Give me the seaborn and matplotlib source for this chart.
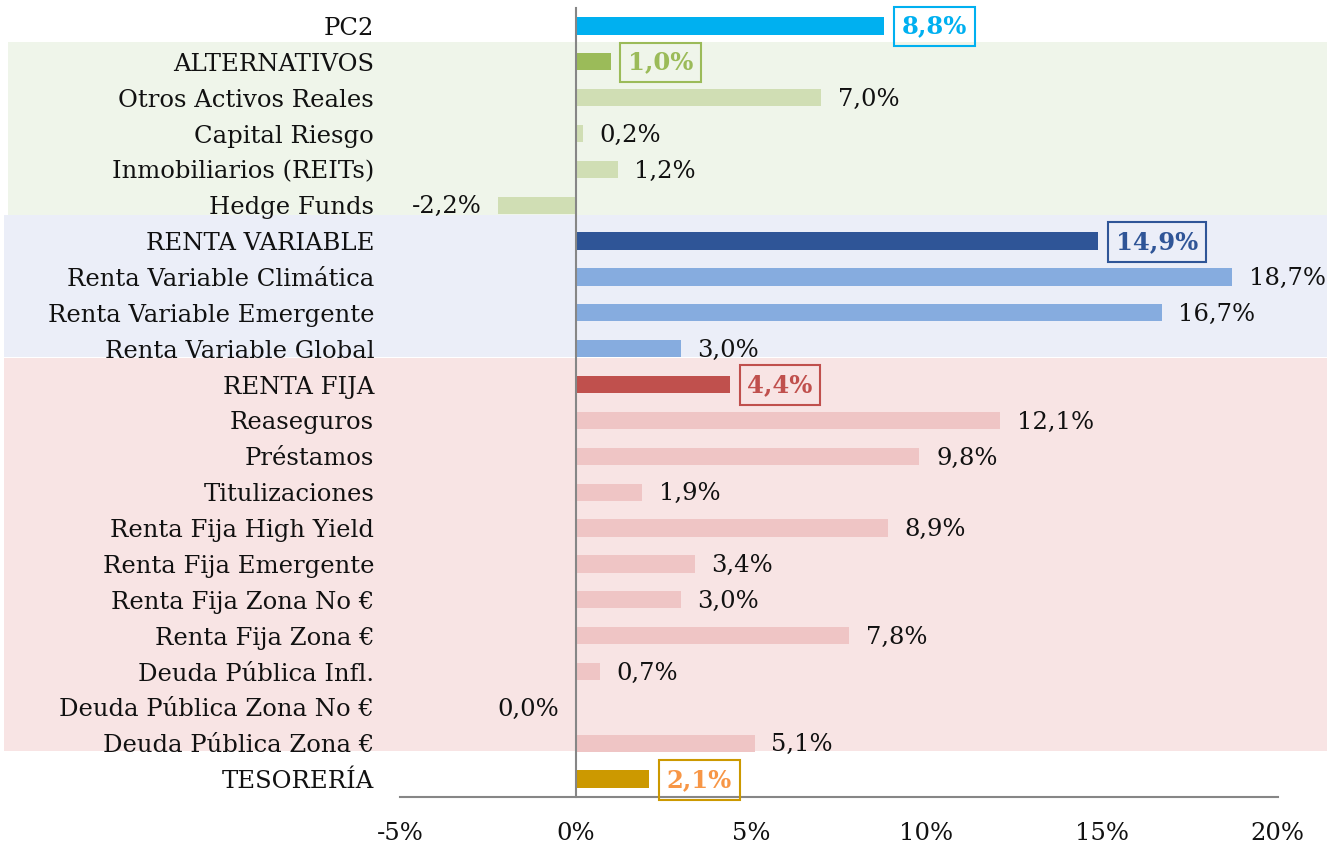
import pandas as pd
import matplotlib.pyplot as plt
import seaborn as sns
from matplotlib.patches import Rectangle

# Datos del gráfico
categorias = ["PC2", "ALTERNATIVOS", "Otros Activos Reales", "Capital Riesgo",
              "Inmobiliarios (REITs)", "Hedge Funds", "RENTA VARIABLE",
              "Renta Variable Climática", "Renta Variable Emergente",
              "Renta Variable Global", "RENTA FIJA", "Reaseguros", "Préstamos",
              "Titulizaciones", "Renta Fija High Yield", "Renta Fija Emergente",
              "Renta Fija Zona No €", "Renta Fija Zona €", "Deuda Pública Infl.",
              "Deuda Pública Zona No €", "Deuda Pública Zona €", "TESORERÍA"]
valores = [8.8, 1.0, 7.0, 0.2, 1.2, -2.2, 14.9, 18.7, 16.7, 3.0, 4.4, 12.1,
           9.8, 1.9, 8.9, 3.4, 3.0, 7.8, 0.7, 0.0, 5.1, 2.1]
grupo = ["pc2", "alt", "alt_s", "alt_s", "alt_s", "alt_s", "rv", "rv_s", "rv_s",
         "rv_s", "rf", "rf_s", "rf_s", "rf_s", "rf_s", "rf_s", "rf_s", "rf_s",
         "rf_s", "rf_s", "rf_s", "tes"]
totales = ["PC2", "ALTERNATIVOS", "RENTA VARIABLE", "RENTA FIJA", "TESORERÍA"]
ticks_x = [-5, 0, 5, 10, 15, 20]

# Colores
color_grupo = {"pc2": "#00B0F0", "alt": "#9BBB59", "alt_s": "#D0DEB4",
               "rv": "#2F5597", "rv_s": "#86ACDF", "rf": "#C0504D",
               "rf_s": "#EFC5C5", "tes": "#CC9900"}
color_texto_total = {"pc2": "#00B0F0", "alt": "#9BBB59", "rv": "#2F5597",
                     "rf": "#C0504D", "tes": "#F79646"}
# bandas de fondo: (y inicio, y fin, x inicio en fracción de ejes, color)
bandas = [(0.46, 5.26, -0.447, "#EFF5EA"),
          (5.28, 9.24, -0.451, "#EBEEF8"),
          (9.27, 20.23, -0.451, "#F8E4E4")]

df = pd.DataFrame({"categoria": categorias, "valor": valores, "grupo": grupo})

sns.set_style("white")
plt.rcParams["font.family"] = ["DejaVu Serif"]
fs = 17.5

fig = plt.figure(figsize=(13.37, 8.48), dpi=100)
ax = fig.add_axes([0.2992, 0.0601, 0.6563, 0.9305])

sns.barplot(data=df, x="valor", y="categoria", hue="categoria",
            palette=[color_grupo[g] for g in grupo], legend=False,
            width=0.48, saturation=1, orient="h", linewidth=0, ax=ax)

for y0, y1, x0, c in bandas:
    ax.add_patch(Rectangle((x0, y0), 1.0564 - x0, y1 - y0, facecolor=c,
                           edgecolor="none", transform=ax.get_yaxis_transform(),
                           clip_on=False, zorder=0))

ax.set_xlim(-5, 20)
ax.set_ylim(21.5, -0.5)
ax.set_xticks(ticks_x)
ax.set_xticklabels([f"{t}%" for t in ticks_x])
ax.set_xlabel("")
ax.set_ylabel("")

# Ejes
gris = "#868686"
for s in ["top", "right"]:
    ax.spines[s].set_visible(False)
ax.spines["left"].set_position(("data", 0))
ax.spines["left"].set_color(gris)
ax.spines["left"].set_linewidth(1.5)
ax.spines["bottom"].set_color(gris)
ax.spines["bottom"].set_linewidth(1.5)
ax.set_yticks(range(len(categorias)), minor=False)
ax.set_yticks([i - 0.5 for i in range(len(categorias) + 1)], minor=True)
ax.tick_params(axis="y", which="major", length=0, pad=145, labelsize=fs,
               labelcolor="#111111")
ax.tick_params(axis="y", which="minor", length=6.5, width=1.5, color=gris,
               direction="out")
ax.tick_params(axis="x", length=6, width=1.5, color=gris, pad=12,
               labelsize=fs, labelcolor="#111111", direction="out")

# Etiquetas de valores
for i, (cat, v, g) in enumerate(zip(categorias, valores, grupo)):
    texto = f"{v:.1f}%".replace(".", ",")
    if cat in totales:
        ax.annotate(texto, xy=(v, i), xytext=(12.5, -0.5),
                    textcoords="offset points", va="center", ha="left",
                    fontsize=fs, fontweight="bold",
                    color=color_texto_total[g],
                    bbox=dict(boxstyle="square,pad=0.32", fc="none",
                              ec=color_grupo[g], lw=1.5))
    elif v > 0:
        ax.annotate(texto, xy=(v, i), xytext=(12, -1.2),
                    textcoords="offset points", va="center", ha="left",
                    fontsize=fs, color="#111111")
    else:
        ax.annotate(texto, xy=(v, i), xytext=(-12, -1.2),
                    textcoords="offset points", va="center", ha="right",
                    fontsize=fs, color="#111111")

fig.savefig("out.png", dpi=100)
plt.close(fig)
